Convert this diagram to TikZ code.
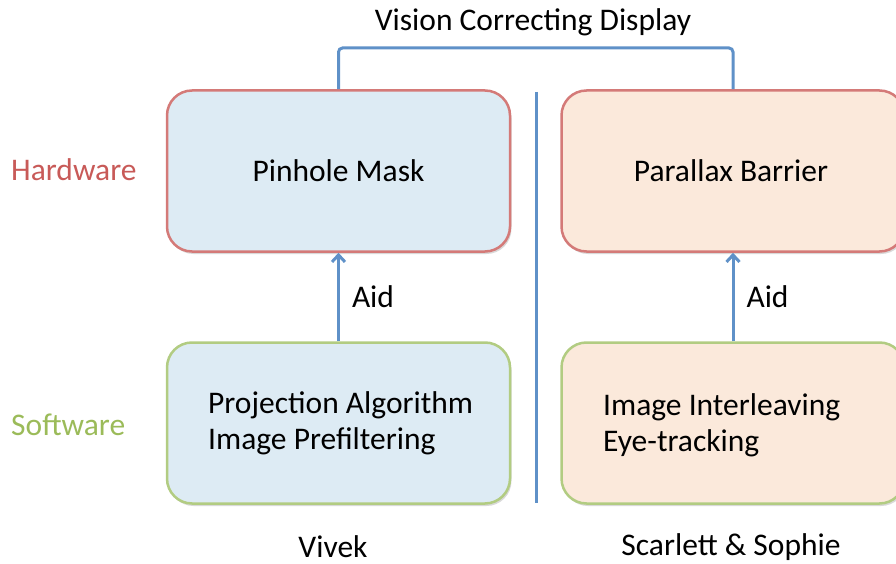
\documentclass[tikz,border=0pt]{standalone}
\usepackage{fontspec}
\setmainfont{Carlito}
\usetikzlibrary{arrows.meta,shadows}
\definecolor{boxblue}{RGB}{221,235,244}
\definecolor{boxpeach}{RGB}{251,233,219}
\definecolor{hwred}{RGB}{200,90,88}
\definecolor{hwborder}{RGB}{212,122,120}
\definecolor{swgreen}{RGB}{155,187,89}
\definecolor{swborder}{RGB}{178,204,130}
\definecolor{linkblue}{RGB}{95,145,200}
\begin{document}
\begin{tikzpicture}[x=1pt,y=-1pt,
  every node/.style={font=\fontsize{31.5}{36}\selectfont, inner sep=0pt},
  boxbase/.style={draw, line width=2.5pt, rounded corners=25pt,
    minimum width=343pt, minimum height=161pt,
    drop shadow={shadow xshift=1.5pt, shadow yshift=-2.5pt, opacity=0.3}},
  hwbox/.style={boxbase, draw=hwborder},
  swbox/.style={boxbase, draw=swborder},
  link/.style={draw=linkblue, line width=3pt},
  aidarrow/.style={link, -{Straight Barb[length=7pt,width=13pt,line width=3pt]}}
]
\useasboundingbox (0,0) rectangle (896,564);

% boxes
\node[hwbox, fill=boxblue] (pin) at (338.5,171) {Pinhole Mask};
\node[hwbox, fill=boxpeach] (par) at (733,171) {\hspace*{-4pt}Parallax Barrier};
\node[swbox, fill=boxblue] (proj) at (338.5,423) {};
\node[swbox, fill=boxpeach] (inter) at (733,423) {};

\node[anchor=west, align=left] (projtxt) at (208,423) {Projection Algorithm\\Image Prefiltering};
\node[anchor=west, align=left] (intertxt) at (603,425) {Image Interleaving\\Eye-tracking};

% aid arrows
\draw[aidarrow] (proj.north) -- (pin.south) node[midway, right=12pt] (aid1) {Aid};
\draw[aidarrow] (inter.north) -- (par.south) node[midway, right=12pt] (aid2) {Aid};

% bracket
\coordinate (bl) at (338.5,48);
\coordinate (br) at (733,48);
\draw[link, rounded corners=4pt] (pin.north) -- (bl) -- (br) -- (par.north);
\node (title) at (533,22) {Vision Correcting Display};

% divider
\coordinate (dt) at (536,92);
\coordinate (db) at (536,503);
\draw[link] (dt) -- (db);

% side labels
\node[anchor=west, text=hwred] (hw) at (11,170) {Hardware};
\node[anchor=west, text=swgreen] (sw) at (11,425) {Software};

% names
\node (vivek) at (333,547) {Vivek};
\node (ss) at (731,547) {Scarlett \& Sophie};
\end{tikzpicture}
\end{document}
